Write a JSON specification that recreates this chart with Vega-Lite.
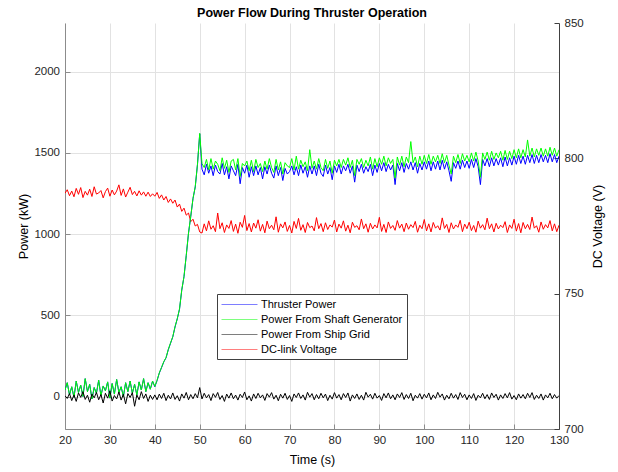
{
  "$schema": "https://vega.github.io/schema/vega-lite/v6.json",
  "width": 494,
  "height": 406,
  "autosize": {"type": "none"},
  "padding": {"left": 65, "top": 23, "right": 59, "bottom": 43},
  "title": {"text": "Power Flow During Thruster Operation", "font": "Liberation Sans", "fontSize": 12.5, "fontWeight": "bold", "color": "#000000", "offset": -2},
  "config": {
    "view": {"stroke": null},
    "font": "Liberation Sans",
    "axis": {
      "labelFont": "Liberation Sans",
      "labelFontSize": 11.5,
      "labelColor": "#262626",
      "labelFlush": false,
      "titleFont": "Liberation Sans",
      "titleFontSize": 12.5,
      "titleFontWeight": "normal",
      "titleColor": "#000000",
      "domainColor": "#8c8c8c",
      "tickColor": "#8c8c8c",
      "tickSize": -5,
      "gridColor": "#e2e2e2",
      "gridWidth": 1
    }
  },
  "data": {"values": [
    {"t":20,"tp":40,"sg":40,"gr":5,"v":787.1},
    {"t":20.5,"tp":85,"sg":85,"gr":-12,"v":788.4},
    {"t":21,"tp":10,"sg":10,"gr":18,"v":786.2},
    {"t":21.5,"tp":60,"sg":60,"gr":-25,"v":787.9},
    {"t":22,"tp":-5,"sg":-5,"gr":10,"v":785.8},
    {"t":22.5,"tp":95,"sg":95,"gr":-30,"v":788.9},
    {"t":23,"tp":25,"sg":25,"gr":22,"v":786.7},
    {"t":23.5,"tp":70,"sg":70,"gr":-5,"v":789.2},
    {"t":24,"tp":0,"sg":0,"gr":30,"v":785.5},
    {"t":24.5,"tp":110,"sg":110,"gr":-18,"v":787.8},
    {"t":25,"tp":30,"sg":30,"gr":8,"v":786.4},
    {"t":25.5,"tp":75,"sg":75,"gr":-35,"v":788.6},
    {"t":26,"tp":-15,"sg":-15,"gr":15,"v":785.9},
    {"t":26.5,"tp":55,"sg":55,"gr":-8,"v":789.5},
    {"t":27,"tp":20,"sg":20,"gr":25,"v":786.8},
    {"t":27.5,"tp":100,"sg":100,"gr":-20,"v":787.2},
    {"t":28,"tp":5,"sg":5,"gr":12,"v":788.1},
    {"t":28.5,"tp":65,"sg":65,"gr":-40,"v":785.4},
    {"t":29,"tp":35,"sg":35,"gr":20,"v":787.7},
    {"t":29.5,"tp":90,"sg":90,"gr":-10,"v":789.0},
    {"t":30,"tp":-10,"sg":-10,"gr":35,"v":786.0},
    {"t":30.5,"tp":80,"sg":80,"gr":-28,"v":788.3},
    {"t":31,"tp":15,"sg":15,"gr":6,"v":786.5},
    {"t":31.5,"tp":105,"sg":105,"gr":-15,"v":787.9},
    {"t":32,"tp":25,"sg":25,"gr":28,"v":790.2},
    {"t":32.5,"tp":60,"sg":60,"gr":-22,"v":786.3},
    {"t":33,"tp":0,"sg":0,"gr":14,"v":788.7},
    {"t":33.5,"tp":85,"sg":85,"gr":-45,"v":785.7},
    {"t":34,"tp":30,"sg":30,"gr":18,"v":787.5},
    {"t":34.5,"tp":95,"sg":95,"gr":-6,"v":789.3},
    {"t":35,"tp":20,"sg":20,"gr":24,"v":786.6},
    {"t":35.5,"tp":75,"sg":75,"gr":-60,"v":787.8},
    {"t":36,"tp":10,"sg":10,"gr":10,"v":786.1},
    {"t":36.5,"tp":90,"sg":90,"gr":-20,"v":788.0},
    {"t":37,"tp":40,"sg":40,"gr":30,"v":786.4},
    {"t":37.5,"tp":110,"sg":110,"gr":-12,"v":787.6},
    {"t":38,"tp":30,"sg":30,"gr":16,"v":786.0},
    {"t":38.5,"tp":85,"sg":85,"gr":-30,"v":787.5},
    {"t":39,"tp":45,"sg":45,"gr":8,"v":785.9},
    {"t":39.5,"tp":95,"sg":95,"gr":-18,"v":786.9},
    {"t":40,"tp":60,"sg":62,"gr":10,"v":786.0},
    {"t":40.5,"tp":98,"sg":100,"gr":-20,"v":787.4},
    {"t":41,"tp":144,"sg":146,"gr":15,"v":785.2},
    {"t":41.5,"tp":178,"sg":180,"gr":-12,"v":786.5},
    {"t":42,"tp":213,"sg":215,"gr":20,"v":784.6},
    {"t":42.5,"tp":238,"sg":240,"gr":-25,"v":785.9},
    {"t":43,"tp":288,"sg":290,"gr":8,"v":783.7},
    {"t":43.5,"tp":328,"sg":330,"gr":-15,"v":785.0},
    {"t":44,"tp":367,"sg":369,"gr":22,"v":783.4},
    {"t":44.5,"tp":428,"sg":430,"gr":-18,"v":784.6},
    {"t":45,"tp":478,"sg":480,"gr":5,"v":782.0},
    {"t":45.5,"tp":538,"sg":540,"gr":-28,"v":783.1},
    {"t":46,"tp":655,"sg":657,"gr":16,"v":780.4},
    {"t":46.5,"tp":738,"sg":740,"gr":-10,"v":781.6},
    {"t":47,"tp":868,"sg":870,"gr":25,"v":779.0},
    {"t":47.5,"tp":1005,"sg":1007,"gr":-20,"v":779.8},
    {"t":48,"tp":1108,"sg":1110,"gr":12,"v":776.6},
    {"t":48.5,"tp":1218,"sg":1220,"gr":-14,"v":777.5},
    {"t":49,"tp":1290,"sg":1292,"gr":18,"v":775.0},
    {"t":49.5,"tp":1428,"sg":1430,"gr":-8,"v":775.6},
    {"t":50,"tp":1618,"sg":1620,"gr":55,"v":772.8},
    {"t":50.5,"tp":1400,"sg":1435,"gr":-15,"v":772.4},
    {"t":51,"tp":1365,"sg":1410,"gr":20,"v":775.8},
    {"t":51.5,"tp":1430,"sg":1460,"gr":-8,"v":773.2},
    {"t":52,"tp":1375,"sg":1395,"gr":12,"v":776.9},
    {"t":52.5,"tp":1420,"sg":1465,"gr":-25,"v":773.8},
    {"t":53,"tp":1360,"sg":1400,"gr":18,"v":775.1},
    {"t":53.5,"tp":1425,"sg":1450,"gr":-5,"v":772.9},
    {"t":54,"tp":1385,"sg":1430,"gr":25,"v":779.8},
    {"t":54.5,"tp":1370,"sg":1390,"gr":-18,"v":774.0},
    {"t":55,"tp":1435,"sg":1470,"gr":6,"v":776.2},
    {"t":55.5,"tp":1365,"sg":1405,"gr":-30,"v":772.6},
    {"t":56,"tp":1415,"sg":1455,"gr":15,"v":775.4},
    {"t":56.5,"tp":1340,"sg":1380,"gr":-10,"v":774.1},
    {"t":57,"tp":1420,"sg":1450,"gr":22,"v":777.0},
    {"t":57.5,"tp":1390,"sg":1460,"gr":-14,"v":773.0},
    {"t":58,"tp":1360,"sg":1395,"gr":9,"v":775.7},
    {"t":58.5,"tp":1430,"sg":1465,"gr":-22,"v":772.3},
    {"t":59,"tp":1310,"sg":1355,"gr":14,"v":776.4},
    {"t":59.5,"tp":1410,"sg":1435,"gr":-6,"v":774.5},
    {"t":60,"tp":1375,"sg":1420,"gr":28,"v":778.9},
    {"t":60.5,"tp":1425,"sg":1450,"gr":-20,"v":773.3},
    {"t":61,"tp":1350,"sg":1390,"gr":4,"v":775.9},
    {"t":61.5,"tp":1415,"sg":1455,"gr":-28,"v":772.8},
    {"t":62,"tp":1360,"sg":1385,"gr":16,"v":776.1},
    {"t":62.5,"tp":1420,"sg":1460,"gr":-12,"v":774.2},
    {"t":63,"tp":1365,"sg":1410,"gr":20,"v":777.3},
    {"t":63.5,"tp":1410,"sg":1435,"gr":-8,"v":773.1},
    {"t":64,"tp":1340,"sg":1385,"gr":10,"v":775.6},
    {"t":64.5,"tp":1415,"sg":1450,"gr":-24,"v":772.5},
    {"t":65,"tp":1370,"sg":1400,"gr":18,"v":776.8},
    {"t":65.5,"tp":1425,"sg":1465,"gr":-4,"v":774.0},
    {"t":66,"tp":1375,"sg":1410,"gr":24,"v":775.3},
    {"t":66.5,"tp":1345,"sg":1380,"gr":-16,"v":773.6},
    {"t":67,"tp":1420,"sg":1460,"gr":8,"v":778.4},
    {"t":67.5,"tp":1360,"sg":1395,"gr":-26,"v":772.7},
    {"t":68,"tp":1410,"sg":1445,"gr":14,"v":775.8},
    {"t":68.5,"tp":1330,"sg":1370,"gr":-10,"v":774.3},
    {"t":69,"tp":1405,"sg":1440,"gr":20,"v":776.5},
    {"t":69.5,"tp":1370,"sg":1420,"gr":-18,"v":773.0},
    {"t":70,"tp":1385,"sg":1410,"gr":6,"v":775.2},
    {"t":70.5,"tp":1420,"sg":1465,"gr":-30,"v":772.4},
    {"t":71,"tp":1365,"sg":1395,"gr":16,"v":776.7},
    {"t":71.5,"tp":1415,"sg":1480,"gr":-6,"v":774.1},
    {"t":72,"tp":1360,"sg":1400,"gr":22,"v":777.8},
    {"t":72.5,"tp":1425,"sg":1455,"gr":-12,"v":773.4},
    {"t":73,"tp":1375,"sg":1415,"gr":10,"v":775.5},
    {"t":73.5,"tp":1415,"sg":1445,"gr":-22,"v":772.6},
    {"t":74,"tp":1350,"sg":1390,"gr":26,"v":776.3},
    {"t":74.5,"tp":1420,"sg":1520,"gr":-4,"v":774.4},
    {"t":75,"tp":1370,"sg":1405,"gr":18,"v":775.0},
    {"t":75.5,"tp":1420,"sg":1450,"gr":-20,"v":773.2},
    {"t":76,"tp":1360,"sg":1400,"gr":12,"v":778.1},
    {"t":76.5,"tp":1430,"sg":1465,"gr":-14,"v":774.0},
    {"t":77,"tp":1375,"sg":1410,"gr":20,"v":775.9},
    {"t":77.5,"tp":1355,"sg":1390,"gr":-8,"v":772.9},
    {"t":78,"tp":1425,"sg":1460,"gr":15,"v":776.2},
    {"t":78.5,"tp":1370,"sg":1405,"gr":-25,"v":773.7},
    {"t":79,"tp":1410,"sg":1450,"gr":8,"v":775.4},
    {"t":79.5,"tp":1335,"sg":1375,"gr":-16,"v":774.6},
    {"t":80,"tp":1420,"sg":1455,"gr":24,"v":777.2},
    {"t":80.5,"tp":1380,"sg":1420,"gr":-10,"v":772.8},
    {"t":81,"tp":1430,"sg":1460,"gr":12,"v":775.7},
    {"t":81.5,"tp":1370,"sg":1410,"gr":-20,"v":774.2},
    {"t":82,"tp":1420,"sg":1460,"gr":18,"v":776.9},
    {"t":82.5,"tp":1390,"sg":1425,"gr":-6,"v":773.1},
    {"t":83,"tp":1430,"sg":1470,"gr":22,"v":775.3},
    {"t":83.5,"tp":1375,"sg":1410,"gr":-28,"v":772.5},
    {"t":84,"tp":1420,"sg":1455,"gr":10,"v":776.4},
    {"t":84.5,"tp":1320,"sg":1360,"gr":-12,"v":774.5},
    {"t":85,"tp":1425,"sg":1460,"gr":16,"v":775.1},
    {"t":85.5,"tp":1385,"sg":1430,"gr":-18,"v":773.6},
    {"t":86,"tp":1430,"sg":1465,"gr":8,"v":777.6},
    {"t":86.5,"tp":1375,"sg":1410,"gr":-22,"v":774.0},
    {"t":87,"tp":1415,"sg":1455,"gr":26,"v":775.8},
    {"t":87.5,"tp":1385,"sg":1420,"gr":-4,"v":772.7},
    {"t":88,"tp":1430,"sg":1475,"gr":14,"v":776.0},
    {"t":88.5,"tp":1360,"sg":1400,"gr":-16,"v":773.9},
    {"t":89,"tp":1425,"sg":1465,"gr":20,"v":775.4},
    {"t":89.5,"tp":1380,"sg":1415,"gr":-10,"v":774.3},
    {"t":90,"tp":1435,"sg":1470,"gr":6,"v":778.2},
    {"t":90.5,"tp":1390,"sg":1430,"gr":-24,"v":773.0},
    {"t":91,"tp":1440,"sg":1480,"gr":18,"v":775.6},
    {"t":91.5,"tp":1385,"sg":1420,"gr":-8,"v":772.6},
    {"t":92,"tp":1430,"sg":1470,"gr":22,"v":776.5},
    {"t":92.5,"tp":1395,"sg":1435,"gr":-14,"v":774.1},
    {"t":93,"tp":1425,"sg":1460,"gr":10,"v":775.2},
    {"t":93.5,"tp":1305,"sg":1345,"gr":-20,"v":773.4},
    {"t":94,"tp":1435,"sg":1475,"gr":16,"v":777.0},
    {"t":94.5,"tp":1390,"sg":1425,"gr":-6,"v":774.2},
    {"t":95,"tp":1440,"sg":1480,"gr":24,"v":775.7},
    {"t":95.5,"tp":1380,"sg":1415,"gr":-18,"v":772.9},
    {"t":96,"tp":1435,"sg":1475,"gr":12,"v":776.1},
    {"t":96.5,"tp":1400,"sg":1440,"gr":-12,"v":773.8},
    {"t":97,"tp":1445,"sg":1570,"gr":20,"v":775.5},
    {"t":97.5,"tp":1395,"sg":1440,"gr":-26,"v":774.4},
    {"t":98,"tp":1440,"sg":1475,"gr":8,"v":776.7},
    {"t":98.5,"tp":1375,"sg":1415,"gr":-10,"v":772.7},
    {"t":99,"tp":1435,"sg":1480,"gr":18,"v":775.3},
    {"t":99.5,"tp":1395,"sg":1430,"gr":-16,"v":774.0},
    {"t":100,"tp":1445,"sg":1485,"gr":14,"v":777.4},
    {"t":100.5,"tp":1400,"sg":1435,"gr":-8,"v":773.2},
    {"t":101,"tp":1450,"sg":1490,"gr":22,"v":775.8},
    {"t":101.5,"tp":1390,"sg":1430,"gr":-20,"v":772.8},
    {"t":102,"tp":1445,"sg":1480,"gr":10,"v":776.3},
    {"t":102.5,"tp":1400,"sg":1445,"gr":-12,"v":774.2},
    {"t":103,"tp":1450,"sg":1485,"gr":26,"v":775.1},
    {"t":103.5,"tp":1395,"sg":1435,"gr":-4,"v":773.5},
    {"t":104,"tp":1455,"sg":1495,"gr":16,"v":778.0},
    {"t":104.5,"tp":1400,"sg":1440,"gr":-22,"v":774.1},
    {"t":105,"tp":1445,"sg":1485,"gr":8,"v":775.6},
    {"t":105.5,"tp":1390,"sg":1425,"gr":-14,"v":772.6},
    {"t":106,"tp":1325,"sg":1370,"gr":20,"v":776.2},
    {"t":106.5,"tp":1440,"sg":1480,"gr":-10,"v":773.9},
    {"t":107,"tp":1405,"sg":1440,"gr":12,"v":775.4},
    {"t":107.5,"tp":1450,"sg":1490,"gr":-18,"v":774.5},
    {"t":108,"tp":1400,"sg":1435,"gr":24,"v":777.1},
    {"t":108.5,"tp":1455,"sg":1495,"gr":-6,"v":772.9},
    {"t":109,"tp":1410,"sg":1450,"gr":14,"v":775.7},
    {"t":109.5,"tp":1450,"sg":1485,"gr":-20,"v":774.0},
    {"t":110,"tp":1405,"sg":1445,"gr":10,"v":776.4},
    {"t":110.5,"tp":1460,"sg":1500,"gr":-12,"v":773.3},
    {"t":111,"tp":1410,"sg":1450,"gr":18,"v":775.2},
    {"t":111.5,"tp":1465,"sg":1505,"gr":-24,"v":772.7},
    {"t":112,"tp":1415,"sg":1450,"gr":8,"v":776.8},
    {"t":112.5,"tp":1305,"sg":1350,"gr":-8,"v":774.2},
    {"t":113,"tp":1460,"sg":1500,"gr":20,"v":775.5},
    {"t":113.5,"tp":1420,"sg":1460,"gr":-14,"v":773.6},
    {"t":114,"tp":1465,"sg":1505,"gr":12,"v":777.9},
    {"t":114.5,"tp":1415,"sg":1455,"gr":-18,"v":774.0},
    {"t":115,"tp":1470,"sg":1510,"gr":22,"v":775.8},
    {"t":115.5,"tp":1420,"sg":1460,"gr":-6,"v":772.8},
    {"t":116,"tp":1465,"sg":1500,"gr":14,"v":776.0},
    {"t":116.5,"tp":1425,"sg":1470,"gr":-22,"v":773.9},
    {"t":117,"tp":1470,"sg":1510,"gr":10,"v":775.3},
    {"t":117.5,"tp":1415,"sg":1455,"gr":-12,"v":774.4},
    {"t":118,"tp":1475,"sg":1515,"gr":18,"v":776.6},
    {"t":118.5,"tp":1420,"sg":1460,"gr":-8,"v":772.6},
    {"t":119,"tp":1470,"sg":1510,"gr":24,"v":775.4},
    {"t":119.5,"tp":1425,"sg":1465,"gr":-16,"v":774.1},
    {"t":120,"tp":1480,"sg":1520,"gr":6,"v":777.5},
    {"t":120.5,"tp":1430,"sg":1470,"gr":-20,"v":773.1},
    {"t":121,"tp":1485,"sg":1525,"gr":16,"v":775.9},
    {"t":121.5,"tp":1435,"sg":1470,"gr":-10,"v":772.5},
    {"t":122,"tp":1480,"sg":1520,"gr":12,"v":776.3},
    {"t":122.5,"tp":1430,"sg":1475,"gr":-14,"v":774.0},
    {"t":123,"tp":1485,"sg":1580,"gr":20,"v":775.6},
    {"t":123.5,"tp":1440,"sg":1480,"gr":-6,"v":773.7},
    {"t":124,"tp":1490,"sg":1530,"gr":24,"v":778.3},
    {"t":124.5,"tp":1435,"sg":1475,"gr":-18,"v":774.2},
    {"t":125,"tp":1485,"sg":1525,"gr":8,"v":775.1},
    {"t":125.5,"tp":1440,"sg":1485,"gr":-12,"v":772.7},
    {"t":126,"tp":1490,"sg":1530,"gr":16,"v":776.5},
    {"t":126.5,"tp":1445,"sg":1480,"gr":-22,"v":773.8},
    {"t":127,"tp":1485,"sg":1525,"gr":10,"v":775.5},
    {"t":127.5,"tp":1440,"sg":1480,"gr":-8,"v":774.3},
    {"t":128,"tp":1495,"sg":1535,"gr":20,"v":777.0},
    {"t":128.5,"tp":1445,"sg":1485,"gr":-14,"v":773.2},
    {"t":129,"tp":1490,"sg":1530,"gr":12,"v":775.8},
    {"t":129.5,"tp":1440,"sg":1480,"gr":-10,"v":772.9},
    {"t":130,"tp":1480,"sg":1520,"gr":6,"v":775.3}
  ]},
  "layer": [
    {
      "mark": {"type": "line", "strokeWidth": 1, "clip": true},
      "encoding": {
        "x": {"field": "t", "type": "quantitative", "scale": {"domain": [20, 130], "nice": false, "zero": false},
              "axis": {"values": [20,30,40,50,60,70,80,90,100,110,120,130], "title": "Time (s)", "grid": true, "labelPadding": 10, "titlePadding": 8}},
        "y": {"field": "v", "type": "quantitative", "scale": {"domain": [700, 850], "nice": false, "zero": false},
              "axis": {"orient": "right", "values": [700,750,800,850], "format": "d", "title": "DC Voltage (V)", "grid": false, "labelPadding": 10, "titlePadding": 21, "titleAngle": -90, "domainColor": "#404040", "tickColor": "#404040"}},
        "color": {"datum": "DC-link Voltage", "type": "nominal",
                  "scale": {"domain": ["Thruster Power", "Power From Shaft Generator", "Power From Ship Grid", "DC-link Voltage"], "range": ["#0000ff", "#00ff00", "#000000", "#ff0000"]},
                  "legend": {"title": null, "orient": "none", "legendX": 152, "legendY": 271, "symbolType": "M-1,0H5", "symbolSize": 144, "symbolStrokeWidth": 1, "symbolOpacity": 0.5, "labelFont": "Liberation Sans", "labelFontSize": 11, "labelColor": "#000000", "labelOffset": 27, "strokeColor": "#404040", "fillColor": "#ffffff", "padding": 4, "rowPadding": 3}}
      }
    },
    {
      "layer": [
        {
          "mark": {"type": "line", "strokeWidth": 1, "clip": true},
          "encoding": {
            "x": {"field": "t", "type": "quantitative"},
            "y": {"field": "tp", "type": "quantitative", "title": "Power (kW)", "scale": {"domain": [-200, 2300], "nice": false, "zero": false},
                  "axis": {"orient": "left", "values": [0,500,1000,1500,2000], "format": "d", "grid": true, "labelPadding": 10.5, "titlePadding": 3}},
            "color": {"datum": "Thruster Power", "type": "nominal"}
          }
        },
        {
          "mark": {"type": "line", "strokeWidth": 1, "clip": true},
          "encoding": {
            "x": {"field": "t", "type": "quantitative"},
            "y": {"field": "sg", "type": "quantitative", "title": "Power (kW)"},
            "color": {"datum": "Power From Shaft Generator", "type": "nominal"}
          }
        },
        {
          "mark": {"type": "line", "strokeWidth": 1, "clip": true},
          "encoding": {
            "x": {"field": "t", "type": "quantitative"},
            "y": {"field": "gr", "type": "quantitative", "title": "Power (kW)"},
            "color": {"datum": "Power From Ship Grid", "type": "nominal"}
          }
        }
      ]
    }
  ],
  "resolve": {"scale": {"y": "independent"}}
}
